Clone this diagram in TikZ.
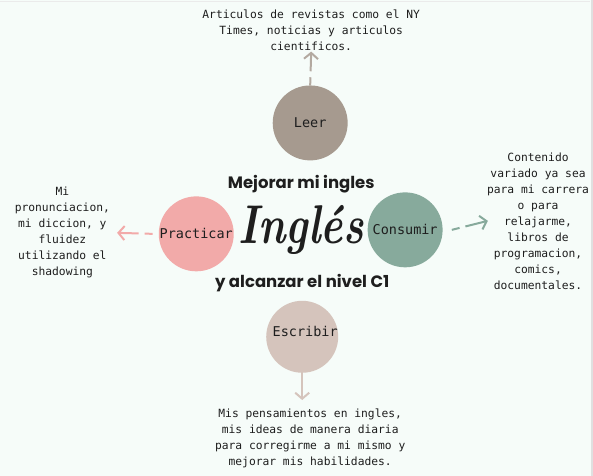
\documentclass[tikz,border=0pt]{standalone}
\usepackage{fontspec}
\usepackage{graphicx}
\usepackage{tikz}
\usetikzlibrary{positioning, arrows.meta}
\newfontfamily\manofont{DejaVu Sans Mono}
\newfontfamily\titfont{Poppins}
\definecolor{fondo}{HTML}{F6FCF9}
\definecolor{cleer}{HTML}{A69A8F}
\definecolor{cprac}{HTML}{F2AAA9}
\definecolor{ccons}{HTML}{87AA9C}
\definecolor{cescr}{HTML}{D5C4BC}
\definecolor{tinta}{HTML}{1E1E1E}

\begin{document}
\begin{tikzpicture}[x=1pt, y=-1pt, >=Stealth,
    blob/.style={circle, minimum size=75pt, inner sep=0pt, text=tinta,
      font=\manofont\fontsize{13.5}{14}\selectfont},
    nota/.style={align=center, text=tinta, inner sep=1pt,
      font=\manofont\fontsize{11.3}{16}\selectfont},
    titulo/.style={text=tinta, font=\titfont\bfseries\fontsize{16.5}{17}\selectfont},
    flecha/.style={-{Straight Barb[length=6pt, width=14pt, line width=2pt]},
      line width=2pt, dash pattern=on 8pt off 6pt on 60pt off 0pt}]
      \fill[fondo] (0,0) rectangle (593,476);
      \fill[black!12] (590.5,0) rectangle (593,476);
      \draw[black!8, line width=0.8pt] (0,1.5) -- (590,1.5);
      \useasboundingbox (0,0) rectangle (593,476);

      \node[blob, fill=cleer] (leer) at (310,123) {Leer};
      \node[blob, fill=cprac] (prac) at (196,234) {Practicar};
      \node[blob, fill=ccons] (cons) at (405,230) {Consumir};
      \node[blob, fill=cescr, minimum size=72pt] (escr) at (302,337) {};
      \node[text=tinta, font=\manofont\fontsize{13.5}{14}\selectfont] (lescr) at (305,332) {Escribir};

      \node[nota] (tleer) at (311,30) {Articulos de revistas como el NY\\Times, noticias y articulos\\cientificos.};
      \node[nota] (tprac) at (62,233) {Mi\\pronunciacion,\\mi diccion, y\\fluidez\\utilizando el\\shadowing};
      \node[nota] (tcons) at (538,221) {Contenido\\variado ya sea\\para mi carrera\\o para\\relajarme,\\libros de\\programacion,\\comics,\\documentales.};
      \node[nota] (tescr) at (310,439) {Mis pensamientos en ingles,\\mis ideas de manera diaria\\para corregirme a mi mismo y\\mejorar mis habilidades.};

      \node[titulo] (sup) at (301,184) {Mejorar mi ingles};
      \node[text=tinta] (ingles) at (301,230) {\scalebox{1}[1.3]{\fontsize{42}{42}\selectfont\bfseries\itshape Ingl\'es}};
      \node[titulo] (inf) at (302,283) {y alcanzar el nivel C1};

      \draw[flecha, cleer!85] (leer.north) -- (tleer.south);
      \draw[flecha, cprac] ([xshift=-6pt]prac.west) -- ([xshift=6pt]tprac.east);
      \draw[flecha, ccons] ([xshift=9pt]cons.east) -- ([xshift=2pt]tcons.west);
      \draw[flecha, cescr, dash pattern=on 60pt off 0pt] ([yshift=2pt]escr.south) -- ([yshift=8pt]escr.south |- tescr.north);
\end{tikzpicture}
\end{document}
